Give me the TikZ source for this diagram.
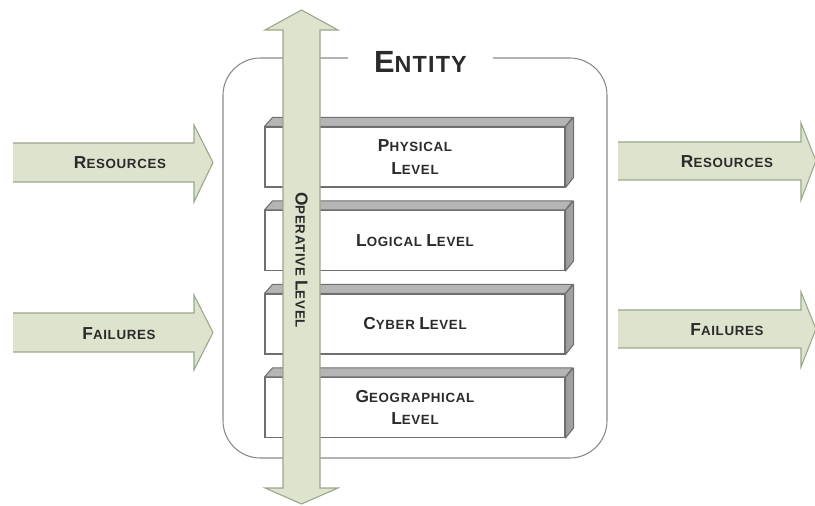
\documentclass[tikz,border=0pt]{standalone}
\usepackage{fontspec}
\setmainfont{Liberation Sans}
\newfontfamily\lblfont[LetterSpace=5]{Liberation Sans}
\definecolor{arrfill}{HTML}{DDE3CC}
\definecolor{arrline}{HTML}{9AA68A}
\definecolor{txt}{HTML}{2B2B2B}
\definecolor{topgray}{HTML}{B5B5B5}
\definecolor{sidegray}{HTML}{A0A0A0}
\definecolor{boxline}{HTML}{6F6F6F}
\definecolor{entline}{HTML}{8A8A8A}
\newcommand\SCw[2]{{\fontsize{13}{17}\selectfont #1}{\fontsize{10}{17}\selectfont #2}}
\begin{document}
\begin{tikzpicture}[x=0.75pt,y=-0.75pt,
  arrowfill/.style={fill=arrfill},
  arrowline/.style={draw=arrline,line width=0.8pt,line join=miter},
  lab/.style={font=\lblfont\bfseries\fontsize{10}{17}\selectfont,text=txt,inner sep=0pt,align=center},
  levelbox/.style={draw=boxline,fill=white,line width=0.8pt,minimum width=225pt,
    minimum height=45pt,inner sep=0pt,font=\lblfont\bfseries\fontsize{10}{17}\selectfont,text=txt,align=center},
  face/.style={draw=boxline,line width=0.8pt,line join=round}]
\useasboundingbox (0,0) rectangle (815,506);
% entity frame
\draw[draw=entline,line width=0.8pt,rounded corners=28pt] (223,58) rectangle (607,458);
% level boxes
\node[levelbox] (phys) at (415,157) {\SCw{P}{HYSICAL}\\\SCw{L}{EVEL}};
\node[levelbox] (logi) at (415,240.5) {\SCw{L}{OGICAL} \SCw{L}{EVEL}};
\node[levelbox] (cyber) at (415,324) {\SCw{C}{YBER} \SCw{L}{EVEL}};
\node[levelbox] (geo) at (415,407.5) {\SCw{G}{EOGRAPHICAL}\\\SCw{L}{EVEL}};
\foreach \b in {phys,logi,cyber,geo}{
  \draw[face,fill=topgray] (\b.north west) -- ++(8,-9) -- ++(300,0) -- (\b.north east) -- cycle;
  \draw[face,fill=sidegray] (\b.north east) -- ++(8,-9) -- ++(0,60) -- (\b.south east) -- cycle;
}
% vertical double arrow
\draw[arrowfill,arrowline] (283,488) -- (283,30) -- (265,30) -- (301.5,10) -- (338,30) -- (320,30)
  -- (320,488) -- (338,488) -- (301.5,504) -- (265,488) -- cycle;
\node[lab,rotate=-90] (oper) at (301.5,260) {\SCw{O}{PERATIVE} \SCw{L}{EVEL}};
% left arrows
\fill[arrowfill] (13,143) -- (194,143) -- (194,125) -- (213,162.5) -- (194,202) -- (194,182) -- (13,182) -- cycle;
\draw[arrowline] (13,143) -- (194,143) -- (194,125) -- (213,162.5) -- (194,202) -- (194,182) -- (13,182);
\node[lab] (resin) at (120,163) {\SCw{R}{ESOURCES}};
\fill[arrowfill] (13,313) -- (194,313) -- (194,295) -- (213,332.5) -- (194,370) -- (194,352) -- (13,352) -- cycle;
\draw[arrowline] (13,313) -- (194,313) -- (194,295) -- (213,332.5) -- (194,370) -- (194,352) -- (13,352);
\node[lab] (failin) at (119,334) {\SCw{F}{AILURES}};
% right arrows
\fill[arrowfill] (618,142) -- (801,142) -- (801,123) -- (816,161) -- (801,200) -- (801,180) -- (618,180) -- cycle;
\draw[arrowline] (618,142) -- (801,142) -- (801,123) -- (816,161) -- (801,200) -- (801,180) -- (618,180);
\node[lab] (resout) at (727,162) {\SCw{R}{ESOURCES}};
\fill[arrowfill] (618,310) -- (801,310) -- (801,292) -- (816,329) -- (801,367) -- (801,348) -- (618,348) -- cycle;
\draw[arrowline] (618,310) -- (801,310) -- (801,292) -- (816,329) -- (801,367) -- (801,348) -- (618,348);
\node[lab] (failout) at (727,330) {\SCw{F}{AILURES}};
% entity title
\node[lab,fill=white,minimum width=109pt,minimum height=22pt] (entity) at (420.5,62)
  {{\fontsize{23}{24}\selectfont E}{\fontsize{17.5}{24}\selectfont NTITY}};
\end{tikzpicture}
\end{document}
